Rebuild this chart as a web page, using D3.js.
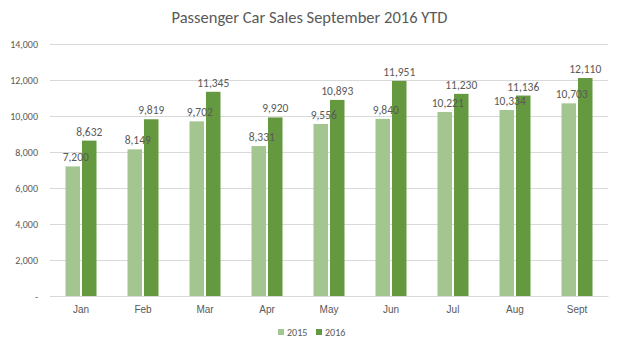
<!DOCTYPE html>
<html><head><meta charset="utf-8">
<script src="https://cdn.jsdelivr.net/npm/d3@7"></script>
<style>body{margin:0;background:#fff}svg{font-family:Calibri,"Liberation Sans Narrow","Open Sans",sans-serif}</style>
</head><body><svg id="c" width="619" height="350"></svg>
<script>
const categories = ["Jan","Feb","Mar","Apr","May","Jun","Jul","Aug","Sept"];
const series2015 = [7200,8149,9702,8331,9556,9840,10221,10334,10703];
const series2016 = [8632,9819,11345,9920,10893,11951,11230,11136,12110];
const seriesNames = ["2015","2016"];
const colors = ["#a3c690","#64993f"];
const yTicks = [0,2000,4000,6000,8000,10000,12000,14000];

const svg = d3.select("#c");
const m = {l:50, r:11, t:44, b:54};
const W = 619, H = 350;
const x = d3.scaleBand().domain(categories).range([m.l, W-m.r]).paddingInner(0.5).paddingOuter(0.25);
const x1 = d3.scaleBand().domain(seriesNames).range([0, x.bandwidth()]).paddingInner(0.12);
const y = d3.scaleLinear().domain([0,14000]).range([H-m.b, m.t]);
const fmt = d3.format(",");

svg.append("text").attr("x", W/2).attr("y", 23).attr("text-anchor","middle")
  .attr("font-size", 16.5).attr("fill","#595959").text("Passenger Car Sales September 2016 YTD");

const ya = svg.append("g").attr("transform",`translate(${m.l},0)`)
  .call(d3.axisLeft(y).tickValues(yTicks).tickSize(-(W-m.l-m.r)).tickPadding(12)
    .tickFormat(d => d===0 ? "-" : fmt(d)));
ya.select(".domain").remove();
ya.selectAll("line").attr("stroke","#d9d9d9");
ya.selectAll("text").attr("fill","#595959").attr("font-size",10).attr("font-family","Calibri,'Liberation Sans Narrow',sans-serif");

const xa = svg.append("g").attr("transform",`translate(0,${H-m.b})`)
  .call(d3.axisBottom(x).tickSize(0).tickPadding(10));
xa.select(".domain").attr("stroke","#d9d9d9");
xa.selectAll("text").attr("fill","#595959").attr("font-size",10);

const data = categories.map((c,i)=>({c, vals:[series2015[i], series2016[i]]}));
const g = svg.append("g").selectAll("g").data(data).join("g")
  .attr("transform", d=>`translate(${x(d.c)},0)`);
g.selectAll("rect").data(d=>d.vals.map((v,k)=>({v,k}))).join("rect")
  .attr("x", d=>x1(seriesNames[d.k])).attr("width", x1.bandwidth())
  .attr("y", d=>y(d.v)).attr("height", d=>y(0)-y(d.v)).attr("fill", d=>colors[d.k]);
g.selectAll("text").data(d=>d.vals.map((v,k)=>({v,k}))).join("text")
  .attr("x", d=>x1(seriesNames[d.k]) + x1.bandwidth()/2 + (d.k===0?3:0))
  .attr("y", d=>y(d.v)-5).attr("text-anchor","middle")
  .attr("font-size",11.5).attr("fill","#595959").text(d=>fmt(d.v));

const lg = svg.append("g").attr("transform",`translate(278,333)`);
seriesNames.forEach((s,i)=>{
  const gi = lg.append("g").attr("transform",`translate(${i*38},0)`);
  gi.append("rect").attr("x",0).attr("y",-4).attr("width",6).attr("height",6).attr("fill",colors[i]);
  gi.append("text").attr("x",9).attr("y",2).attr("font-size",10).attr("fill","#595959").attr("dominant-baseline","middle").attr("dy","-0.1em").text(s);
});
</script></body></html>
